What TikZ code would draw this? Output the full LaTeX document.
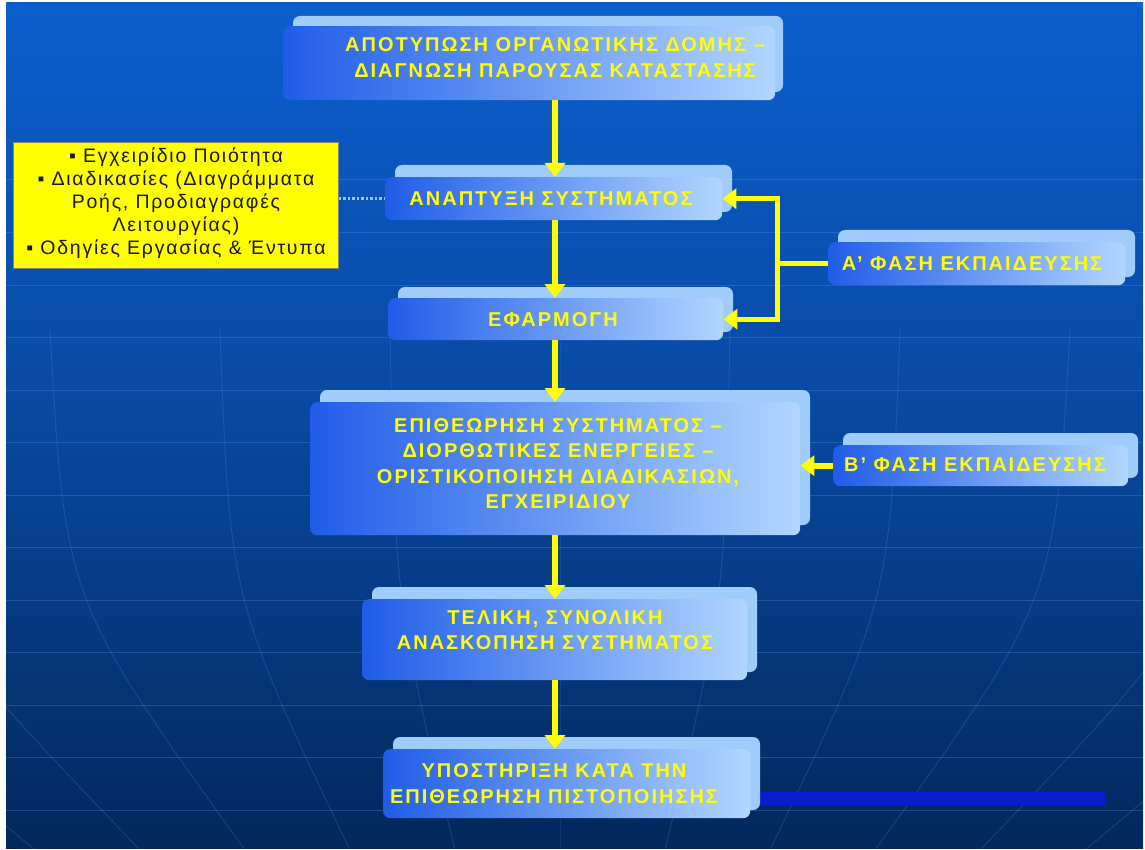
\documentclass[tikz,border=0pt]{standalone}
\usepackage{fontspec}
\setmainfont{Liberation Sans}
\newfontfamily\tf[LetterSpace=10]{Liberation Sans}
\newfontfamily\yf[LetterSpace=9]{Liberation Sans}
\usetikzlibrary{arrows.meta}
\definecolor{bgtop}{RGB}{12,94,206}
\definecolor{bgmid}{RGB}{8,72,160}
\definecolor{bgbot}{RGB}{3,40,92}
\definecolor{ylw}{RGB}{255,255,0}
\definecolor{bklight}{RGB}{160,204,252}
\definecolor{frdark}{RGB}{32,92,232}
\definecolor{frlight}{RGB}{178,214,255}
\definecolor{gline}{RGB}{90,150,230}
\definecolor{barc}{RGB}{10,30,205}
\definecolor{dotc}{RGB}{150,200,255}
\definecolor{ink}{RGB}{25,25,25}
\begin{document}
\begin{tikzpicture}[x=1pt,y=-1pt,
 bk/.style={fill=bklight, rounded corners=7pt},
 fr/.style={rounded corners=7pt, left color=frdark, right color=frlight, inner sep=0pt, anchor=north west},
 tt/.style={text=ylw, font=\tf\bfseries\fontsize{20}{25.5}\selectfont, align=center, inner sep=0pt},
 arr/.style={draw=ylw, line width=6pt, -{Triangle[width=20pt,length=14pt]}},
 gl/.style={draw=gline, line width=1pt, opacity=0.3},
]
\useasboundingbox (0,0) rectangle (1145,850);
\fill[white] (0,0) rectangle (1145,850);
\shade[top color=bgtop, bottom color=bgbot, middle color=bgmid] (6,3) rectangle (1143,848);
\begin{scope}
\clip (6,3) rectangle (1143,848);
\foreach \yy in {180,232.5,...,812} \draw[gl] (6,\yy) -- (1143,\yy);
\foreach \t in {-5,...,5} \draw[gl, opacity=0.22] ({560+\t*170},330) .. controls ({560+\t*165},600) .. ({560+\t*105},850);
\end{scope}

% blue bar
\fill[barc] (760,792) rectangle (1105,805);

% yellow box
\node[draw=gray, line width=0.8pt, fill=ylw, minimum width=325pt, minimum height=126pt, inner sep=0pt, anchor=north west] (Y) at (13,142) {};
\node[text=ink, font=\yf\fontsize{19.5}{23}\selectfont, align=center, inner sep=0pt] (Yt) at (176,203)
 {▪ Εγχειρίδιο Ποιότητα\\▪ Διαδικασίες (Διαγράμματα\\Ροής, Προδιαγραφές\\Λειτουργίας)\\▪ Οδηγίες Εργασίας \& Έντυπα};

% boxes: back strips then fronts
\path[bk] (293,16) rectangle (783,92);
\node[fr, minimum width=492pt, minimum height=74pt] (A) at (283,26) {};
\path[bk] (395,165) rectangle (732,212);
\node[fr, minimum width=337pt, minimum height=43pt] (B) at (385,177) {};
\path[bk] (398,287) rectangle (733,332);
\node[fr, minimum width=335pt, minimum height=42pt] (C) at (388,298) {};
\path[bk] (320,390) rectangle (810,525);
\node[fr, minimum width=490pt, minimum height=133pt] (D) at (310,402) {};
\path[bk] (838,230) rectangle (1135,277);
\node[fr, minimum width=297pt, minimum height=43pt] (E) at (828,242) {};
\path[bk] (843,433) rectangle (1138,478);
\node[fr, minimum width=295pt, minimum height=41pt] (F) at (833,445) {};
\path[bk] (372,587) rectangle (757,672);
\node[fr, minimum width=385pt, minimum height=81pt] (G) at (362,599) {};
\path[bk] (393,737) rectangle (760,810);
\node[fr, minimum width=367pt, minimum height=69pt] (H) at (383,749) {};

% texts
\node[tt] (At) at (555,57.5) {ΑΠΟΤΥΠΩΣΗ ΟΡΓΑΝΩΤΙΚΗΣ ΔΟΜΗΣ –\\ΔΙΑΓΝΩΣΗ ΠΑΡΟΥΣΑΣ ΚΑΤΑΣΤΑΣΗΣ};
\node[tt] (Bt) at (551,199) {ΑΝΑΠΤΥΞΗ ΣΥΣΤΗΜΑΤΟΣ};
\node[tt] (Ct) at (553,320) {ΕΦΑΡΜΟΓΗ};
\node[tt] (Dt) at (558,463.5) {ΕΠΙΘΕΩΡΗΣΗ ΣΥΣΤΗΜΑΤΟΣ –\\ΔΙΟΡΘΩΤΙΚΕΣ ΕΝΕΡΓΕΙΕΣ –\\ΟΡΙΣΤΙΚΟΠΟΙΗΣΗ ΔΙΑΔΙΚΑΣΙΩΝ,\\ΕΓΧΕΙΡΙΔΙΟΥ};
\node[tt] (Et) at (972,264) {Α’ ΦΑΣΗ ΕΚΠΑΙΔΕΥΣΗΣ};
\node[tt] (Ft) at (975,465) {Β’ ΦΑΣΗ ΕΚΠΑΙΔΕΥΣΗΣ};
\node[tt] (Gt) at (555,630) {ΤΕΛΙΚΗ, ΣΥΝΟΛΙΚΗ\\ΑΝΑΣΚΟΠΗΣΗ ΣΥΣΤΗΜΑΤΟΣ};
\node[tt] (Ht) at (554,783.5) {ΥΠΟΣΤΗΡΙΞΗ ΚΑΤΑ ΤΗΝ\\ΕΠΙΘΕΩΡΗΣΗ ΠΙΣΤΟΠΟΙΗΣΗΣ};

% connectors
\coordinate (ax) at (555,0);
\coordinate (fb) at (777,0);
\draw[dotc, line width=2.5pt, dotted] (B.west -| Y.east) -- (B.west);
\draw[arr] (A.south -| ax) -- (B.north -| ax);
\draw[arr] (B.south -| ax) -- (C.north -| ax);
\draw[arr] (C.south -| ax) -- (D.north -| ax);
\draw[arr] (D.south -| ax) -- (G.north -| ax);
\draw[arr] (G.south -| ax) -- (H.north -| ax);
\draw[arr, line width=5pt] (E.west) -| (fb |- B.east) -- (B.east);
\draw[arr, line width=5pt] (E.west) -| (fb |- C.east) -- (C.east);
\draw[arr] (F.west) -- (F.west -| D.east);
\end{tikzpicture}
\end{document}
